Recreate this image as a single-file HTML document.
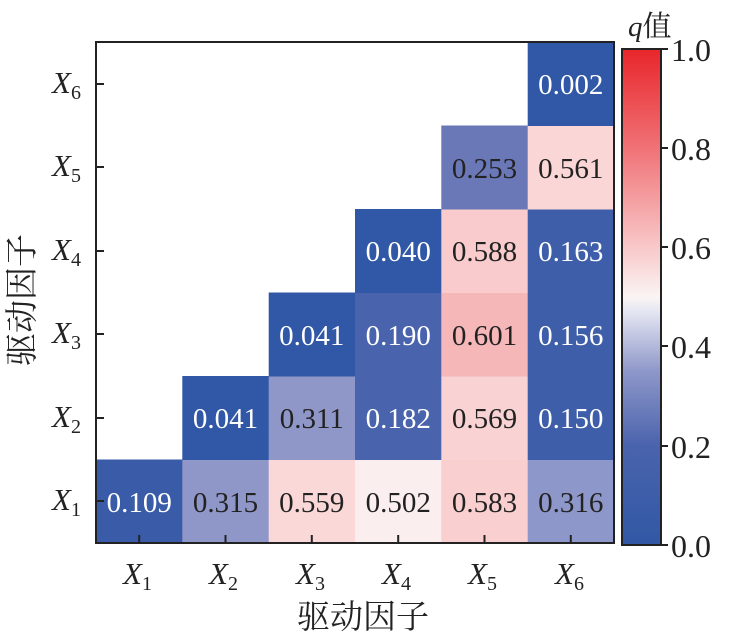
<!DOCTYPE html>
<html><head><meta charset="utf-8"><style>
html,body{margin:0;padding:0;background:#fff;}
svg{display:block;font-family:"Liberation Serif","Noto Serif CJK SC",serif;}
</style></head><body>
<svg width="729" height="638" viewBox="0 0 729 638" xmlns="http://www.w3.org/2000/svg">
<defs><linearGradient id="cb" x1="0" y1="1" x2="0" y2="0">
<stop offset="0" stop-color="#3158a5"/>
<stop offset="0.2" stop-color="#4a63ad"/>
<stop offset="0.35" stop-color="#8e97c9"/>
<stop offset="0.47" stop-color="#e4e6f2"/>
<stop offset="0.5" stop-color="#fbf4f4"/>
<stop offset="0.6" stop-color="#f8c8c9"/>
<stop offset="0.8" stop-color="#f07276"/>
<stop offset="1" stop-color="#e8262b"/>
</linearGradient></defs>
<g id="cells" font-size="29" text-anchor="middle">
<rect x="96" y="459.5" width="86.8" height="84" fill="#3a5ba8"/><text x="139.2" y="512" fill="#fff">0.109</text>
<rect x="182.3" y="459.5" width="86.8" height="84" fill="#8f97c9"/><text x="225.5" y="512" fill="#222">0.315</text>
<rect x="268.7" y="459.5" width="86.8" height="84" fill="#fad8d8"/><text x="311.8" y="512" fill="#222">0.559</text>
<rect x="355" y="459.5" width="86.8" height="84" fill="#fbeeee"/><text x="398.2" y="512" fill="#222">0.502</text>
<rect x="441.3" y="459.5" width="86.8" height="84" fill="#f9cfd0"/><text x="484.5" y="512" fill="#222">0.583</text>
<rect x="527.7" y="459.5" width="86.3" height="84" fill="#8e97c9"/><text x="570.8" y="512" fill="#222">0.316</text>

<rect x="182.3" y="376" width="86.8" height="84" fill="#3158a6"/><text x="225.5" y="428" fill="#fff">0.041</text>
<rect x="268.7" y="376" width="86.8" height="84" fill="#8f97c9"/><text x="311.8" y="428" fill="#222">0.311</text>
<rect x="355" y="376" width="86.8" height="84" fill="#4a63ad"/><text x="398.2" y="428" fill="#fff">0.182</text>
<rect x="441.3" y="376" width="86.8" height="84" fill="#f9d2d3"/><text x="484.5" y="428" fill="#222">0.569</text>
<rect x="527.7" y="376" width="86.3" height="84" fill="#3f5eaa"/><text x="570.8" y="428" fill="#fff">0.150</text>

<rect x="268.7" y="292.5" width="86.8" height="84" fill="#3158a6"/><text x="311.8" y="345" fill="#fff">0.041</text>
<rect x="355" y="292.5" width="86.8" height="84" fill="#4a63ad"/><text x="398.2" y="345" fill="#fff">0.190</text>
<rect x="441.3" y="292.5" width="86.8" height="84" fill="#f5b7b8"/><text x="484.5" y="345" fill="#222">0.601</text>
<rect x="527.7" y="292.5" width="86.3" height="84" fill="#3f5eaa"/><text x="570.8" y="345" fill="#fff">0.156</text>

<rect x="355" y="209" width="86.8" height="84" fill="#3158a6"/><text x="398.2" y="261" fill="#fff">0.040</text>
<rect x="441.3" y="209" width="86.8" height="84" fill="#f9cbcc"/><text x="484.5" y="261" fill="#222">0.588</text>
<rect x="527.7" y="209" width="86.3" height="84" fill="#3f5eaa"/><text x="570.8" y="261" fill="#fff">0.163</text>

<rect x="441.3" y="125.5" width="86.8" height="84" fill="#6a78b8"/><text x="484.5" y="178" fill="#222">0.253</text>
<rect x="527.7" y="125.5" width="86.3" height="84" fill="#fbd6d6"/><text x="570.8" y="178" fill="#222">0.561</text>

<rect x="527.7" y="42" width="86.3" height="84" fill="#3158a6"/><text x="570.8" y="94" fill="#fff">0.002</text>
</g>
<rect x="96" y="42" width="518" height="501" fill="none" stroke="#222" stroke-width="2"/>
<g stroke="#222" stroke-width="2">
<line x1="139.2" y1="543" x2="139.2" y2="535"/><line x1="225.5" y1="543" x2="225.5" y2="535"/><line x1="311.8" y1="543" x2="311.8" y2="535"/><line x1="398.2" y1="543" x2="398.2" y2="535"/><line x1="484.5" y1="543" x2="484.5" y2="535"/><line x1="570.8" y1="543" x2="570.8" y2="535"/>
<line x1="96" y1="501" x2="104" y2="501"/><line x1="96" y1="418" x2="104" y2="418"/><line x1="96" y1="334" x2="104" y2="334"/><line x1="96" y1="251" x2="104" y2="251"/><line x1="96" y1="167" x2="104" y2="167"/><line x1="96" y1="84" x2="104" y2="84"/>
</g>
<g font-size="31" font-style="italic" fill="#222">
<text x="123" y="584">X<tspan font-size="20" font-style="normal" dy="6">1</tspan></text>
<text x="209" y="584">X<tspan font-size="20" font-style="normal" dy="6">2</tspan></text>
<text x="296" y="584">X<tspan font-size="20" font-style="normal" dy="6">3</tspan></text>
<text x="382" y="584">X<tspan font-size="20" font-style="normal" dy="6">4</tspan></text>
<text x="468" y="584">X<tspan font-size="20" font-style="normal" dy="6">5</tspan></text>
<text x="555" y="584">X<tspan font-size="20" font-style="normal" dy="6">6</tspan></text>
<text x="52" y="510">X<tspan font-size="20" font-style="normal" dy="6">1</tspan></text>
<text x="52" y="427">X<tspan font-size="20" font-style="normal" dy="6">2</tspan></text>
<text x="52" y="343">X<tspan font-size="20" font-style="normal" dy="6">3</tspan></text>
<text x="52" y="260">X<tspan font-size="20" font-style="normal" dy="6">4</tspan></text>
<text x="52" y="176">X<tspan font-size="20" font-style="normal" dy="6">5</tspan></text>
<text x="52" y="93">X<tspan font-size="20" font-style="normal" dy="6">6</tspan></text>
</g>
<text x="363" y="628" font-size="33" text-anchor="middle" fill="#222">驱动因子</text>
<text transform="translate(33,300) rotate(-90)" font-size="33" text-anchor="middle" fill="#222">驱动因子</text>
<rect x="622" y="49" width="39" height="496" fill="url(#cb)" stroke="#222" stroke-width="2"/>
<g stroke="#222" stroke-width="2">
<line x1="661" y1="545" x2="668" y2="545"/><line x1="661" y1="446" x2="668" y2="446"/><line x1="661" y1="346" x2="668" y2="346"/><line x1="661" y1="247" x2="668" y2="247"/><line x1="661" y1="148" x2="668" y2="148"/><line x1="661" y1="49" x2="668" y2="49"/>
</g>
<g font-size="32" fill="#222">
<text x="671" y="557">0.0</text><text x="671" y="458">0.2</text><text x="671" y="358">0.4</text><text x="671" y="259">0.6</text><text x="671" y="160">0.8</text><text x="671" y="61">1.0</text>
</g>
<text x="628" y="36" font-size="29" fill="#222"><tspan font-style="italic">q</tspan>值</text>
</svg>
</body></html>
